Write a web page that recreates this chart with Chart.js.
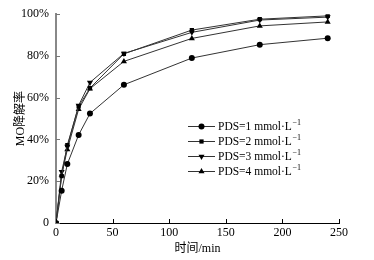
<!DOCTYPE html>
<html>
<head>
<meta charset="utf-8">
<script src="https://cdn.jsdelivr.net/npm/chart.js@4"></script>
<style>
  html, body { margin: 0; padding: 0; background: #fff; }
  #wrap { width: 374px; height: 260px; }
</style>
</head>
<body>
<div id="wrap"><canvas id="chart" width="374" height="260"></canvas></div>
<script>
// time points (min)
const times = [0, 5, 10, 20, 30, 60, 120, 180, 240];

// MO degradation (%) for each PDS dose
const pds1 = [0, 15.5, 28.2, 42.2, 52.4, 66.2, 79.0, 85.4, 88.5];
const pds2 = [0, 22.5, 37.3, 55.8, 64.6, 81.0, 92.4, 97.6, 99.2];
const pds3 = [0, 24.6, 36.6, 56.3, 67.3, 81.2, 91.3, 97.2, 98.6];
const pds4 = [0, 23.0, 35.2, 54.5, 64.3, 77.4, 88.4, 94.4, 96.3];

const seriesLabels = ["PDS=1 mmol·L", "PDS=2 mmol·L", "PDS=3 mmol·L", "PDS=4 mmol·L"];
const xTicks = [0, 50, 100, 150, 200, 250];
const yTicks = [0, 20, 40, 60, 80, 100];

const serif = "'Liberation Serif', 'Noto Sans CJK SC', serif";

const styles = [
  { pointStyle: "circle", rotation: 0, radius: 3 },
  { pointStyle: "rect", rotation: 0, radius: 3 },
  { pointStyle: "triangle", rotation: 180, radius: 3.5 },
  { pointStyle: "triangle", rotation: 0, radius: 3.5 }
];

const makeSet = (label, values, s) => ({
  label: label,
  data: times.map((t, i) => ({ x: t, y: values[i] })),
  borderColor: "#333",
  borderWidth: 1,
  backgroundColor: "#000",
  pointBackgroundColor: "#000",
  pointBorderColor: "#000",
  pointStyle: s.pointStyle,
  rotation: s.rotation,
  pointRadius: s.radius,
  pointBorderWidth: 0,
  tension: 0
});

// inward tick marks on both axes
const innerTicks = {
  id: "innerTicks",
  afterDraw(chart) {
    const ctx = chart.ctx;
    const xs = chart.scales.x, ys = chart.scales.y;
    const a = chart.chartArea;
    ctx.save();
    ctx.strokeStyle = "#000";
    ctx.lineWidth = 1;
    xTicks.forEach(v => {
      const px = Math.round(xs.getPixelForValue(v)) + 0.5;
      ctx.beginPath();
      ctx.moveTo(px, a.bottom);
      ctx.lineTo(px, a.bottom - 4);
      ctx.stroke();
    });
    ctx.strokeStyle = "#777";
    yTicks.forEach(v => {
      const py = Math.round(ys.getPixelForValue(v)) + 0.5;
      ctx.beginPath();
      ctx.moveTo(a.left, py);
      ctx.lineTo(a.left + 4, py);
      ctx.stroke();
    });
    ctx.restore();
  }
};

// line-with-marker legend inside the plot
const markerLegend = {
  id: "markerLegend",
  afterDraw(chart) {
    const ctx = chart.ctx;
    const x0 = 188, x1 = 215, tx = 218;
    const rows = [126, 141, 156, 171];
    ctx.save();
    chart.data.datasets.forEach((ds, i) => {
      const y = rows[i];
      ctx.strokeStyle = "#333";
      ctx.lineWidth = 1;
      ctx.beginPath();
      ctx.moveTo(x0, y + 0.5);
      ctx.lineTo(x1, y + 0.5);
      ctx.stroke();
      ctx.fillStyle = "#000";
      ctx.strokeStyle = "#000";
      Chart.helpers.drawPoint(ctx, {
        pointStyle: ds.pointStyle,
        rotation: ds.rotation,
        radius: ds.pointRadius,
        borderWidth: 0
      }, (x0 + x1) / 2, y + 0.5);
      ctx.fillStyle = "#000";
      ctx.font = "11.5px " + serif;
      ctx.textBaseline = "middle";
      ctx.textAlign = "left";
      ctx.fillText(seriesLabels[i], tx, y + 1);
      const w = ctx.measureText(seriesLabels[i]).width;
      ctx.font = "8px " + serif;
      ctx.fillText("\u22121", tx + w + 0.5, y - 3);
    });
    ctx.restore();
  }
};

new Chart(document.getElementById("chart"), {
  type: "line",
  data: {
    datasets: [
      makeSet(seriesLabels[0], pds1, styles[0]),
      makeSet(seriesLabels[1], pds2, styles[1]),
      makeSet(seriesLabels[2], pds3, styles[2]),
      makeSet(seriesLabels[3], pds4, styles[3])
    ]
  },
  options: {
    responsive: false,
    animation: false,
    layout: { padding: { top: 13, right: 35, left: 0, bottom: 0 } },
    plugins: {
      legend: { display: false },
      tooltip: { enabled: false }
    },
    scales: {
      x: {
        type: "linear",
        min: 0,
        max: 250,
        afterBuildTicks: s => { s.ticks = xTicks.map(v => ({ value: v })); },
        afterFit: s => { s.height = 37; },
        grid: { display: false, drawTicks: false },
        border: { display: true, color: "#000", width: 1 },
        ticks: { color: "#000", padding: 3, font: { family: serif, size: 12 } },
        title: {
          display: true,
          text: "时间/min",
          color: "#000",
          font: { family: serif, size: 12 },
          padding: { top: 0, bottom: 4 }
        }
      },
      y: {
        min: 0,
        max: 100,
        afterBuildTicks: s => { s.ticks = yTicks.map(v => ({ value: v })); },
        afterFit: s => { s.width = 56; },
        grid: { display: false, drawTicks: false },
        border: { display: true, color: "#888", width: 2 },
        ticks: {
          color: "#000",
          padding: 7,
          font: { family: serif, size: 12 },
          callback: v => (v === 0 ? "0" : v + "%")
        },
        title: {
          display: true,
          text: "MO降解率",
          color: "#000",
          font: { family: serif, size: 12 },
          padding: { top: 14, bottom: 0 }
        }
      }
    }
  },
  plugins: [innerTicks, markerLegend]
});
</script>
</body>
</html>
